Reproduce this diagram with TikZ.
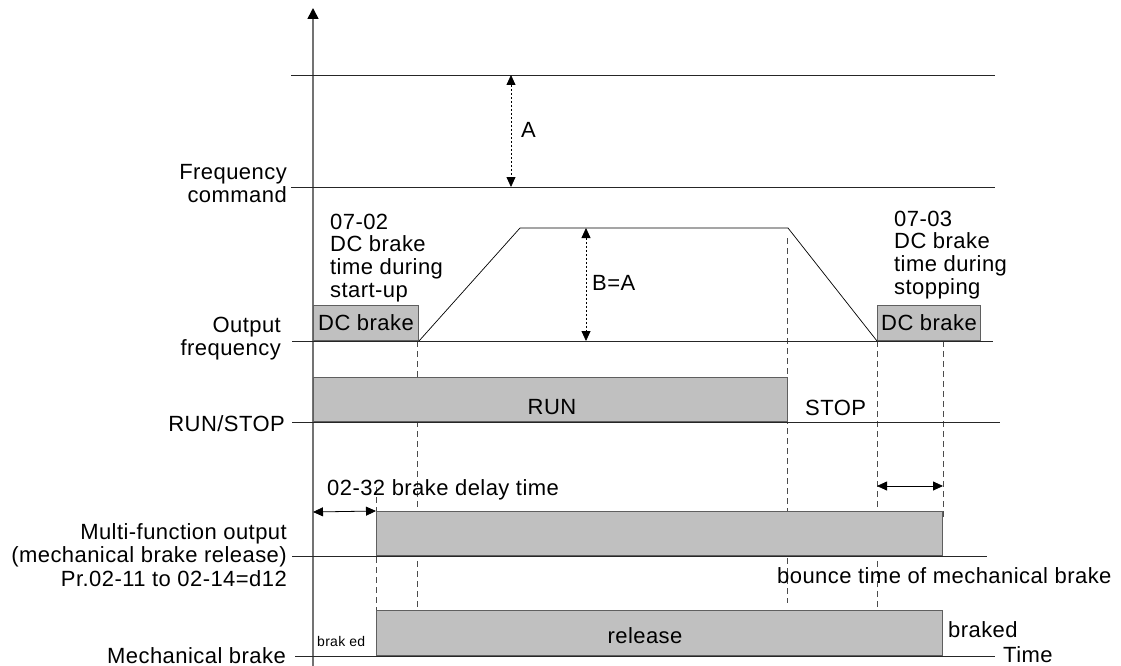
\documentclass[tikz,border=0pt]{standalone}
\usepackage{fontspec}
\setmainfont{Liberation Sans}[LetterSpace=2]
\usetikzlibrary{positioning,arrows.meta}
\definecolor{pulsegray}{RGB}{192,192,192}
\definecolor{edgegray}{RGB}{95,95,95}

\begin{document}
\begin{tikzpicture}[
  x=1pt, y=-1pt,
  txt/.style={font=\fontsize{22}{22.6}\selectfont, inner sep=0pt},
  smalltxt/.style={font=\fontsize{14}{16}\selectfont, inner sep=0pt},
  level/.style={draw=black!85, line width=0.9pt},
  pulse/.style={draw=edgegray, fill=pulsegray, line width=1pt,
                inner sep=0pt, anchor=south west, txt},
  guide/.style={draw=black!70, line width=0.7pt, dash pattern=on 6pt off 4pt},
  span/.style={{Triangle[length=10pt,width=9pt]}-{Triangle[length=10pt,width=9pt]},
               line width=0.8pt},
  dotspan/.style={span, dash pattern=on 2pt off 2pt}
]
\useasboundingbox (0,0) rectangle (1121,666);

% time axis
\coordinate (origin) at (313,666);
\coordinate (axtop) at (313,8);
\draw[draw=black!55, line width=1.6pt,
      -{Triangle[length=11pt,width=11pt,color=black]}] (origin) -- (axtop);

% guides (behind the pulses)
\draw[guide] (376,487) -- (376,656);
\draw[guide] (417,341) -- (417,610);
\draw[guide] (787,238) -- (787,603);
\draw[guide] (877,341) -- (877,610);
\draw[guide] (943,341) -- (943,518);

% frequency command
\coordinate (fcw1) at (291,75);
\coordinate (fce1) at (995,75);
\coordinate (fcw2) at (291,187);
\coordinate (fce2) at (995,187);
\draw[level] (fcw1) -- (fce1);
\draw[level] (fcw2) -- (fce2);
\node[txt, align=right, anchor=base east] (fclbl) at (287,202) {Frequency\\command};
\coordinate (a1) at (511,75);
\coordinate (a2) at (511,187);
\draw[dotspan] (a1) -- (a2);
\node[txt, anchor=base west] (alabel) at (521,137) {A};

% output frequency
\coordinate (ofw) at (292,341);
\coordinate (ofe) at (993,341);
\draw[level] (ofw) -- (ofe);
\node[pulse, minimum width=105, minimum height=35] (dcstart) at (313,341) {DC brake};
\node[pulse, minimum width=103, minimum height=35] (dcstop) at (877,341) {DC brake};
\coordinate (rampup) at (520,228);
\coordinate (rampdown) at (788,228);
\draw[black, line width=0.7pt] (dcstart.south east) -- (rampup) -- (rampdown) -- (dcstop.south west);
\coordinate (b1) at (586,228);
\coordinate (b2) at (586,341);
\draw[dotspan] (b1) -- (b2);
\node[txt, anchor=base west] (blabel) at (592,290) {B=A};
\node[txt, align=left, anchor=base west] (dcstartlbl) at (330,297)
  {07-02\\DC brake\\time during\\start-up};
\node[txt, align=left, anchor=base west] (dcstoplbl) at (894,294)
  {07-03\\DC brake\\time during\\stopping};
\node[txt, align=right, anchor=base east] (oflbl) at (281,355) {Output\\frequency};

% run / stop
\coordinate (rsw) at (292,422);
\coordinate (rse) at (1000,422);
\draw[level] (rsw) -- (rse);
\node[pulse, minimum width=474, minimum height=44] (runbox) at (313,422) {};
\node[txt, anchor=base] (runlbl) at (552,414) {RUN};
\node[txt, anchor=base west] (stoplbl) at (805,415) {STOP};
\node[txt, anchor=base east] (rslbl) at (285,431) {RUN/STOP};

% multi-function output
\coordinate (mfw) at (292,556);
\coordinate (mfe) at (987,556);
\draw[level] (mfw) -- (mfe);
\node[pulse, minimum width=566, minimum height=44] (mfobox) at (376,556) {};
\node[txt, font=\fontsize{22}{23.5}\selectfont, align=right, anchor=base east]
  (mfolbl) at (287,586)
  {Multi-function output\\(mechanical brake release)\\Pr.02-11 to 02-14=d12};
\coordinate (d1) at (313,512);
\draw[span] (d1) -- (mfobox.north west);
\node[txt, anchor=base west] (delaylbl) at (327,495) {02-32 brake delay time};
\coordinate (bn1) at (877,486);
\coordinate (bn2) at (943,486);
\draw[span] (bn1) -- (bn2);
\node[txt, anchor=base west] (bouncelbl) at (777,583) {bounce time of mechanical brake};

% mechanical brake
\coordinate (mbw) at (295,656);
\coordinate (mbe) at (995,656);
\draw[level] (mbw) -- (mbe);
\node[pulse, minimum width=566, minimum height=45] (mbbox) at (376,656) {};
\node[txt, anchor=base] (releaselbl) at (645,643) {release};
\node[smalltxt, anchor=base west] (brakedin) at (317,646) {brak ed};
\node[txt, anchor=base west] (brakedout) at (948,637) {braked};
\node[txt, anchor=base west] (timelbl) at (1003,662) {Time};
\node[txt, anchor=base east] (mblbl) at (286,663) {Mechanical brake};
\end{tikzpicture}
\end{document}
